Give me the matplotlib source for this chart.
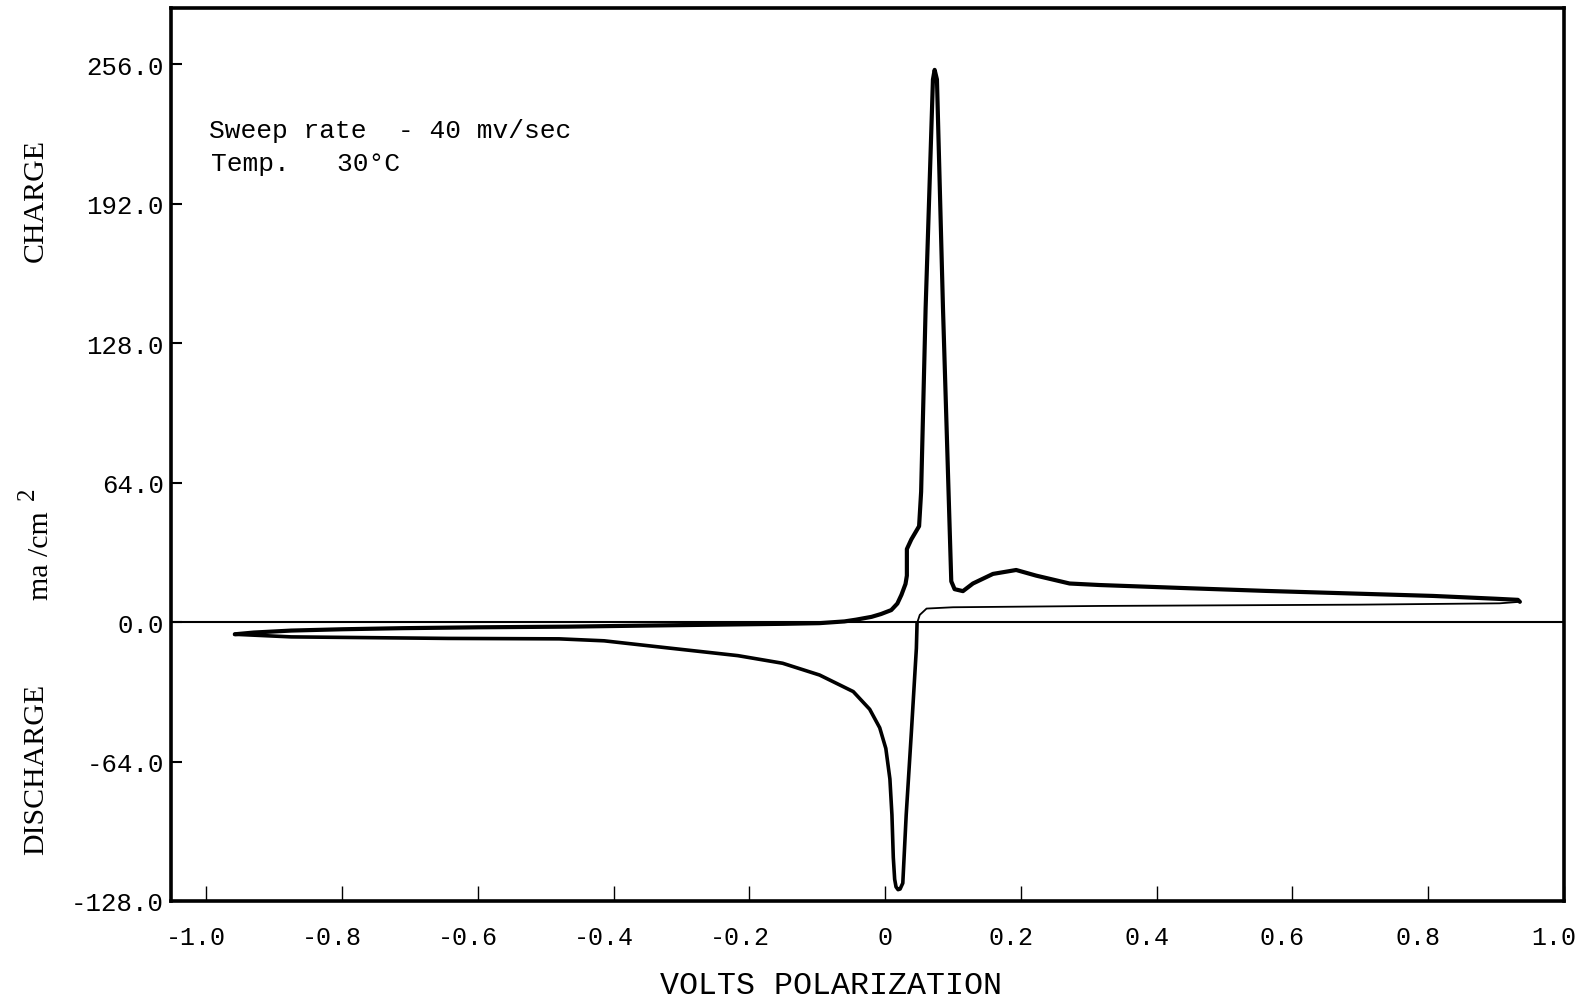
import matplotlib
matplotlib.use("Agg")
import matplotlib.pyplot as plt
import matplotlib.transforms as mtransforms

# forward (anodic) sweep, volts / ma per cm2
fwd_v = [-0.958, -0.93, -0.875, -0.80, -0.711, -0.60, -0.467, -0.35, -0.25, -0.15,
         -0.097, -0.06, -0.043, -0.02, -0.006, 0.009, 0.018, 0.024, 0.030, 0.032,
         0.032, 0.0385, 0.050, 0.053, 0.0596, 0.0704, 0.0729, 0.0763, 0.0852, 0.0974,
         0.1023, 0.1146, 0.1293, 0.1588, 0.193, 0.2226, 0.2717, 0.316, 0.45, 0.561,
         0.70, 0.807, 0.90, 0.932, 0.935]
fwd_i = [-5.6, -4.8, -3.9, -3.3, -2.8, -2.4, -2.1, -1.6, -1.2, -0.8,
         -0.5, 0.3, 1.1, 2.4, 3.7, 5.5, 8.5, 12.5, 17.5, 21.3,
         33.5, 37.9, 44.0, 59.8, 143.9, 249.0, 253.4, 249.0, 143.9, 18.7,
         15.1, 14.2, 17.7, 22.1, 23.9, 21.3, 17.7, 17.0, 15.5, 14.3,
         13.0, 12.0, 10.7, 10.2, 9.3]

# reverse sweep back to the discharge peak (thin trace)
rev_v = [0.935, 0.905, 0.70, 0.316, 0.10, 0.061, 0.051, 0.047]
rev_i = [9.3, 8.6, 8.0, 7.4, 6.8, 6.2, 3.3, -0.5]

# discharge peak and return to the cathodic limit
dis_v = [0.047, 0.046, 0.0387, 0.031, 0.026, 0.022, 0.019, 0.016, 0.014, 0.012,
         0.010, 0.007, 0.001, -0.008, -0.0228, -0.047, -0.0966, -0.151, -0.217,
         -0.316, -0.414, -0.48, -0.644, -0.875, -0.958]
dis_i = [-0.5, -12.0, -50.2, -88.5, -119.8, -122.5, -122.8, -121.5, -118.0, -108.0,
         -88.5, -72.0, -58.0, -48.5, -40.0, -31.9, -24.3, -18.9, -15.4,
         -12.0, -8.6, -7.7, -7.5, -6.8, -5.6]

x_ticks = [-1.0, -0.8, -0.6, -0.4, -0.2, 0, 0.2, 0.4, 0.6, 0.8, 1.0]
x_labels = ["-1.0", "-0.8", "-0.6", "-0.4", "-0.2", "0", "0.2", "0.4", "0.6", "0.8", "1.0"]
y_ticks = [-128, -64, 0, 64, 128, 192, 256]
y_labels = ["-128.0", "-64.0", "0.0", "64.0", "128.0", "192.0", "256.0"]

mono = "Liberation Mono"
serif = "Liberation Serif"

fig = plt.figure(figsize=(15.95, 10.04), dpi=100)
ax = fig.add_axes([171 / 1595, 1 - 902 / 1004, 1393 / 1595, 893 / 1004])

ax.plot(fwd_v, fwd_i, color="black", lw=3.0, solid_joinstyle="round", solid_capstyle="round")
ax.plot(rev_v, rev_i, color="black", lw=1.3, solid_joinstyle="round")
ax.plot(dis_v, dis_i, color="black", lw=2.6, solid_joinstyle="round", solid_capstyle="round")
ax.axhline(0, color="black", lw=1.5)

ax.set_xlim(-1.052, 1.0)
ax.set_ylim(-128, 281.8)

for s in ax.spines.values():
    s.set_linewidth(2.6)

ax.set_xticks(x_ticks)
ax.set_xticklabels(x_labels, fontfamily=mono, fontsize=18)
ax.set_yticks(y_ticks)
ax.set_yticklabels(y_labels, fontfamily=mono, fontsize=18.5)
ax.tick_params(axis="x", direction="in", length=11, width=1.0, pad=17, top=False)
ax.tick_params(axis="y", direction="in", length=8, width=1.5, pad=5, right=False)

# typewriter labels sit a bit left of their ticks
shift = mtransforms.ScaledTranslation(-10 / 100, 0, fig.dpi_scale_trans)
for lab in ax.get_xticklabels():
    if lab.get_text() != "0":
        lab.set_transform(lab.get_transform() + shift)

ax.text(0.027, 0.8635, "Sweep rate  - 40 mv/sec", transform=ax.transAxes,
        fontfamily=mono, fontsize=18.9, va="center", ha="left")
ax.text(0.029, 0.8265, "Temp.   30\u00b0C", transform=ax.transAxes,
        fontfamily=mono, fontsize=18.9, va="center", ha="left")

fig.text(0.0225, 1 - 200 / 1004, "CHARGE", rotation=90, fontfamily=serif,
         fontsize=21.5, ha="center", va="center")
fig.text(0.0255, 1 - 556 / 1004, "ma /cm", rotation=90, fontfamily=serif,
         fontsize=21.5, ha="center", va="center")
fig.text(0.0172, 1 - 494 / 1004, "2", rotation=90, fontfamily=serif,
         fontsize=18, ha="center", va="center")
fig.text(0.0225, 1 - 769 / 1004, "DISCHARGE", rotation=90, fontfamily=serif,
         fontsize=21.5, ha="center", va="center")
fig.text(831 / 1595, 1 - 986 / 1004, "VOLTS POLARIZATION", fontfamily=mono,
         fontsize=22.8, ha="center", va="center")

fig.savefig("out.png", dpi=100)
